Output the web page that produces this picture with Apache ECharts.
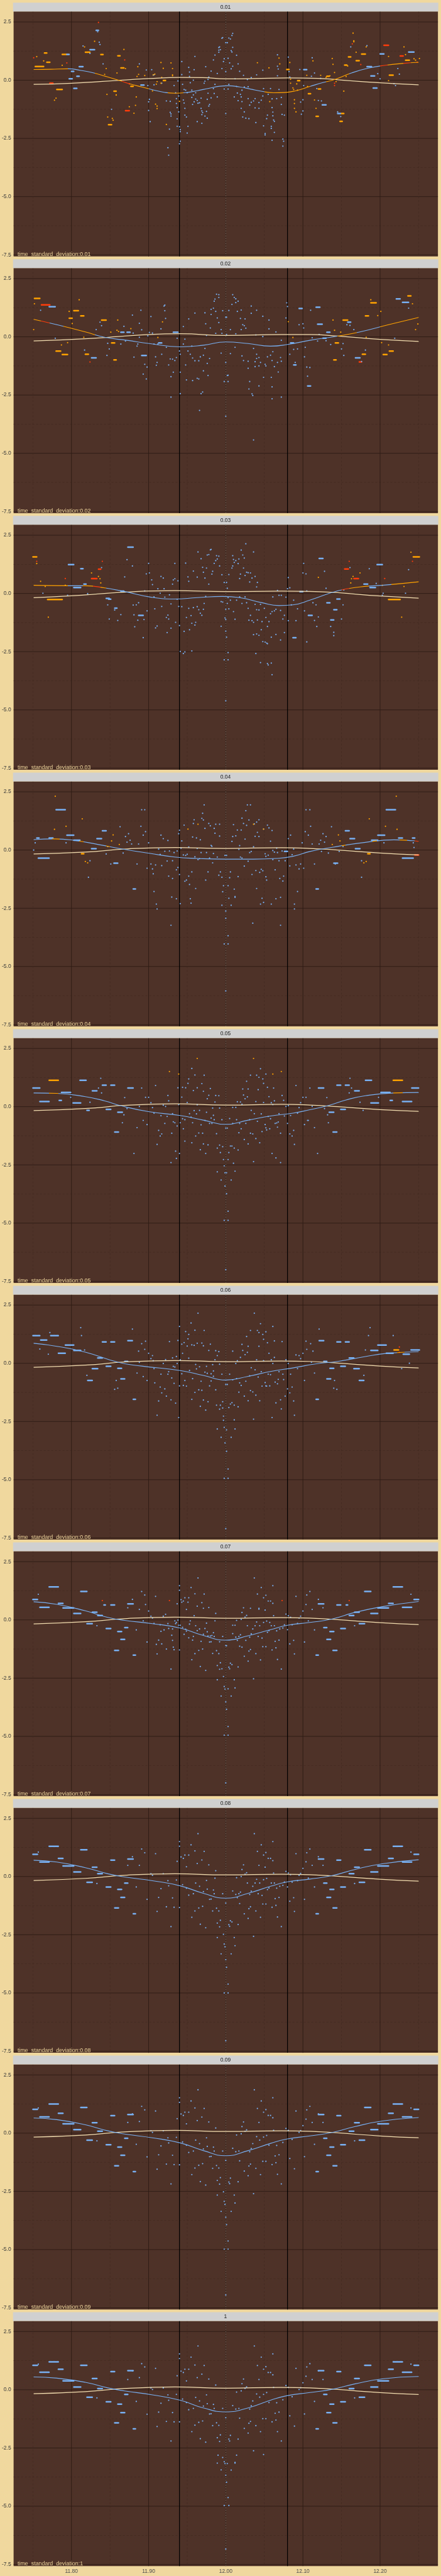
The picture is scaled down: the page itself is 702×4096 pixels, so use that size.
<!DOCTYPE html>
<html><head><meta charset="utf-8">
<script src="https://cdn.jsdelivr.net/npm/echarts@6/dist/echarts.min.js"></script>
<style>html,body{margin:0;padding:0;background:#f0d89e;}#c{width:702px;height:4096px;}</style>
</head><body><div id="c"></div>
<script>
// ---------- tick / label arrays ----------
const panelLabels = ['0.01','0.02','0.03','0.04','0.05','0.06','0.07','0.08','0.09','1'];
const captionPrefix = 'time_standard_deviation:';
const yTicks = [-7.5,-5,-2.5,0,2.5];
const yMinor = [-6.25,-3.75,-1.25,1.25];
const xTicks = [11.8,11.9,12.0,12.1,12.2];
const xMinor = [11.75,11.85,11.95,12.05,12.15,12.25];
const refLines = [11.94,12.08];
const centerLine = [12.0];

// ---------- panel 1 ----------
const P1_bars = [[11.753,11.764,0.59,1],[11.765,11.768,1.17,1],[11.768,11.772,0.77,1],[11.788,11.794,1.11,1],[11.794,11.797,1.11,0],[11.772,11.776,-0.13,2],[11.781,11.788,-0.40,1],[11.810,11.815,0.58,0],[11.800,11.803,0.38,0],[11.807,11.810,0.17,0],[11.797,11.801,0.06,0],[11.803,11.807,-0.35,0],[11.824,11.830,1.31,0],[11.818,11.824,1.20,1],[11.838,11.841,1.10,1],[11.860,11.863,1.05,1],[11.864,11.868,0.53,1],[11.855,11.858,-0.47,1],[11.877,11.880,-0.26,1],[11.890,11.894,-0.21,0],[11.832,11.835,2.14,0],[11.848,11.852,-1.91,1],[11.870,11.875,-1.31,2],[11.919,11.922,-0.01,1],[12.079,12.082,0.46,1],[12.093,12.096,-0.02,1],[12.101,12.105,0.45,0],[12.107,12.110,-0.58,1],[12.117,12.120,-1.55,1],[12.120,12.123,-0.38,1],[12.125,12.130,-1.06,0],[12.131,12.134,0.17,1],[12.145,12.149,-1.43,0],[12.148,12.151,-1.77,1],[12.150,12.153,-1.43,1],[12.154,12.157,0.65,1],[12.159,12.162,1.00,1],[12.169,12.173,0.84,1],[12.176,12.181,1.12,1],[12.183,12.189,0.58,0],[12.188,12.193,0.18,0],[12.191,12.196,-0.34,0],[12.200,12.205,1.13,0],[12.205,12.211,1.50,2],[12.212,12.217,0.22,1],[12.226,12.230,1.04,2],[12.233,12.238,0.86,1],[12.237,12.244,1.21,0]];
const P1_red = [[11.751,0.96],[11.835,2.48],[11.869,0.87],[11.794,0.74],[11.875,-0.16],[12.141,-0.13],[12.141,-0.23],[12.164,1.56],[12.175,0.67],[12.248,0.77]];
const P1_orange = [[11.755,1.01],[11.764,0.83],[11.788,0.64],[11.817,1.43],[11.830,1.67],[11.868,1.32],[11.845,0.50],[11.843,0.25],[11.859,0.31],[11.886,0.58],[11.885,0.16],[11.887,0.25],[11.895,0.20],[11.870,0.50],[11.846,-0.61],[11.858,-0.64],[11.778,-0.86],[11.780,-0.77],[11.847,-1.58],[11.853,-1.64],[11.854,-1.72],[11.881,-1.42],[11.884,-0.72],[11.883,-1.08],[11.875,-1.14],[11.858,-0.63],[11.905,-0.46],[11.909,-1.03],[11.911,-1.11],[11.911,-1.22],[11.906,0.23],[11.908,0.26],[11.910,-0.17],[11.911,-0.06],[11.916,0.76],[11.919,0.51],[11.917,0.12],[11.916,-0.13],[11.923,-1.90],[11.929,0.74],[11.931,0.50],[11.931,0.23],[11.931,0.19],[11.940,-0.91],[12.041,0.75],[12.056,0.53],[12.057,-0.92],[12.069,0.95],[12.070,0.70],[12.083,0.76],[12.084,0.04],[12.084,-0.13],[12.087,-0.33],[12.088,-0.40],[12.089,-0.84],[12.089,-1.00],[12.089,-1.21],[12.091,-1.36],[12.092,-0.16],[12.093,-0.43],[12.113,0.83],[12.105,0.21],[12.106,-0.27],[12.115,-0.85],[12.117,-1.21],[12.123,0.21],[12.130,0.12],[12.135,0.19],[12.138,0.93],[12.139,0.68],[12.141,0.33],[12.143,-0.06],[12.153,-0.47],[12.156,0.16],[12.158,0.61],[12.165,2.02],[12.166,1.65],[12.166,1.69],[12.169,1.20],[12.182,1.43],[12.211,1.02],[12.211,-0.02],[12.231,1.43],[12.233,1.10],[12.244,0.92],[12.246,0.86],[12.251,0.93]];
const P1_blue = [[11.888,0.70],[11.897,0.44],[11.906,0.22],[11.904,0.45],[11.841,0.70],[11.836,1.63],[11.837,1.53],[11.815,1.47],[11.824,1.15],[11.834,2.08],[11.852,-1.25],[11.899,-0.23],[11.901,-0.82],[11.900,-0.93],[11.900,-1.30],[11.902,-1.78],[11.907,-0.20],[11.907,0.23],[11.917,-0.13],[11.925,-2.90],[11.926,-3.22],[11.927,-2.10],[11.923,-0.89],[11.928,-0.91],[11.928,-1.38],[11.929,-1.45],[11.929,-1.54],[11.933,-0.23],[11.935,-0.54],[11.936,-0.79],[11.936,-1.00],[11.937,-1.18],[11.937,-1.66],[11.937,-1.98],[11.940,-2.00],[11.939,-1.36],[11.939,-0.68],[11.938,-0.03],[11.941,-2.12],[11.941,-2.21],[11.941,-2.62],[11.940,-2.73],[11.943,0.80],[11.943,0.24],[11.944,-0.18],[11.946,-0.40],[11.945,-0.85],[11.946,-0.98],[11.947,-1.21],[11.947,-1.50],[11.948,-0.43],[11.950,-0.54],[11.949,-1.58],[11.950,-2.27],[11.951,-1.98],[11.952,0.55],[11.953,0.35],[11.953,0.16],[11.954,-0.11],[11.956,-0.43],[11.956,-0.74],[11.957,-1.04],[11.959,-0.93],[11.958,-0.63],[11.961,-0.54],[11.961,-0.81],[11.963,-0.87],[11.963,-1.78],[11.960,1.02],[11.959,0.45],[11.958,0.00],[11.964,-0.99],[11.966,-0.97],[11.968,-0.77],[11.968,-1.21],[11.969,-1.32],[11.970,-1.39],[11.969,-1.48],[11.969,-1.85],[11.973,-1.54],[11.975,-1.34],[11.976,-1.63],[11.978,-1.11],[11.979,-1.04],[11.981,-0.76],[11.976,-0.82],[11.977,-0.56],[11.972,-0.13],[11.973,-0.04],[11.974,0.58],[11.977,0.03],[11.978,0.13],[11.981,0.39],[11.984,0.87],[11.984,-0.36],[11.985,-0.57],[11.986,-0.18],[11.989,-0.72],[11.989,0.29],[11.986,1.08],[11.991,1.20],[11.991,1.29],[11.991,1.40],[11.992,1.43],[11.993,1.31],[11.995,1.80],[11.996,1.83],[11.995,0.50],[11.997,0.80],[11.998,0.92],[12.000,0.37],[12.000,1.61],[12.002,1.61],[12.000,-1.43],[11.998,-0.38],[12.003,-0.38],[12.004,-0.18],[12.004,1.81],[12.006,1.77],[12.008,1.92],[12.009,2.01],[12.009,1.41],[12.008,1.21],[12.007,1.27],[12.003,0.94],[12.005,0.74],[12.007,0.49],[12.009,0.60],[12.014,1.07],[12.016,0.70],[12.012,0.06],[12.014,-0.27],[12.018,0.38],[12.015,-0.55],[12.019,-0.61],[12.021,-0.43],[12.024,-0.29],[12.011,-0.72],[12.016,-0.88],[12.020,-0.72],[12.021,-0.92],[12.020,-1.21],[12.024,-1.36],[12.022,-1.58],[12.026,-1.63],[12.030,-1.65],[12.023,0.21],[12.028,0.03],[12.029,-0.28],[12.033,0.11],[12.029,-0.79],[12.031,-1.07],[12.033,-0.95],[12.036,-0.89],[12.038,-0.79],[12.038,-1.19],[12.039,-1.82],[12.043,-1.21],[12.043,-0.96],[12.046,-0.86],[12.048,-0.68],[12.049,-0.36],[12.040,0.23],[12.048,0.43],[12.049,-1.96],[12.051,-2.29],[12.051,-2.35],[12.054,-1.50],[12.053,-1.65],[12.059,-1.98],[12.059,-2.07],[12.060,-2.58],[12.063,-2.24],[12.055,-0.61],[12.058,-0.36],[12.060,-0.80],[12.060,-1.18],[12.061,-1.37],[12.061,-1.53],[12.062,-1.71],[12.063,-1.77],[12.066,-0.79],[12.067,0.19],[12.068,0.48],[12.067,0.60],[12.067,1.09],[12.069,-0.40],[12.072,-0.74],[12.072,-1.04],[12.073,-1.47],[12.076,-1.50],[12.074,-2.53],[12.075,-2.62],[12.074,-2.83],[12.081,0.99],[12.082,0.37],[12.083,0.13],[12.097,-0.94],[12.098,-1.46],[12.100,-0.84],[12.100,-1.32],[12.101,-0.23],[12.096,0.46],[12.112,0.96],[12.111,0.17],[12.115,0.31],[12.118,-0.36],[12.120,-0.87],[12.124,-0.89],[12.123,0.08],[12.145,-1.36],[12.149,-1.56],[12.162,1.43],[12.183,1.48],[12.197,0.28],[12.200,0.06],[12.218,-0.15],[12.220,-0.23],[12.223,0.50],[12.225,0.26]];
const P1_curve = [[11.751,0.46],[11.773,0.47],[11.796,0.49],[11.812,0.42],[11.829,0.31],[11.845,0.16],[11.861,0.00],[11.876,-0.16],[11.891,-0.29],[11.905,-0.41],[11.920,-0.52],[11.934,-0.56],[11.949,-0.53],[11.963,-0.45],[11.978,-0.35],[11.992,-0.26],[12.003,-0.24],[12.018,-0.29],[12.032,-0.38],[12.047,-0.48],[12.062,-0.54],[12.076,-0.53],[12.091,-0.45],[12.109,-0.27],[12.126,-0.10],[12.141,0.03],[12.163,0.31],[12.185,0.52],[12.207,0.64],[12.229,0.72],[12.250,0.77]];
const P1_curveCol = [[11.70,1],[11.795,0],[11.83,1],[11.865,2],[11.875,1],[11.90,0],[11.925,1],[11.945,0],[12.05,1],[12.11,0],[12.13,1],[12.16,0],[12.20,2],[12.21,1],[12.23,2],[12.24,1]];
const P1_cream = [[11.751,-0.18],[11.800,-0.13],[11.850,-0.03],[11.900,0.07],[11.941,0.12],[11.970,0.11],[12.000,0.06],[12.036,0.07],[12.080,0.10],[12.120,0.08],[12.145,0.02],[12.200,-0.11],[12.250,-0.20]];

// ---------- panel 2 ----------
const P2_bars = [[11.752,11.759,1.65,1],[11.761,11.772,1.37,2],[11.771,11.779,1.29,0],[11.803,11.809,1.12,1],[11.780,11.786,-0.61,1],[11.788,11.795,-0.76,1],[11.812,11.816,0.90,1],[11.818,11.822,-0.75,1],[11.826,11.832,-0.90,0],[11.839,11.845,0.72,1],[11.864,11.868,0.20,0],[11.872,11.876,0.20,0],[11.852,11.856,-0.26,1],[11.855,11.858,-0.99,1],[11.891,11.897,-0.80,0],[11.913,11.917,-0.26,0],[11.932,11.938,0.20,0],[11.797,11.801,0.80,1],[12.084,12.088,-0.26,0],[12.088,12.091,-1.21,0],[12.106,12.110,-2.11,0],[12.095,12.099,1.22,0],[12.126,12.130,-0.06,0],[12.131,12.135,0.20,0],[12.117,12.122,1.27,0],[12.119,12.125,0.54,0],[12.152,12.158,0.72,1],[12.158,12.162,0.63,0],[12.142,12.146,-0.26,1],[12.140,12.143,-0.99,1],[12.168,12.174,-0.90,0],[12.173,12.176,-1.08,2],[12.177,12.181,-0.75,1],[12.181,12.185,0.90,1],[12.188,12.195,1.46,1],[12.204,12.209,-0.76,1],[12.212,12.217,-0.61,1],[12.221,12.226,1.63,0],[12.229,12.237,1.48,0],[12.236,12.240,1.76,1]];
const P2_red = [[11.824,-1.08]];
const P2_orange = [[11.751,0.31],[11.752,1.42],[11.810,1.59],[11.797,1.09],[11.801,0.57],[11.795,-0.25],[11.787,-0.35],[11.816,-0.02],[11.851,0.20],[11.859,0.28],[11.860,0.72],[11.861,0.23],[11.877,0.35],[11.912,-0.03],[11.918,0.64],[12.081,0.65],[12.087,-0.03],[12.139,0.72],[12.141,0.28],[12.149,0.20],[12.182,-0.02],[12.202,-0.25],[12.211,-0.35],[12.197,0.91],[12.201,1.09],[12.246,0.31],[12.249,0.55],[12.242,1.42],[12.188,1.59]];
const P2_blue = [[11.760,1.14],[11.779,-0.06],[11.817,-0.57],[11.832,0.31],[11.837,0.63],[11.839,0.48],[11.846,-0.80],[11.847,-0.28],[11.849,-0.52],[11.864,-0.31],[11.868,0.45],[11.870,-0.18],[11.879,0.93],[11.880,0.16],[11.881,-0.87],[11.885,-0.40],[11.886,-0.31],[11.888,-0.02],[11.888,0.58],[11.890,1.14],[11.891,0.30],[11.893,-1.60],[11.895,-1.18],[11.897,-1.81],[11.898,-1.30],[11.899,0.04],[11.901,0.19],[11.903,0.87],[11.905,0.16],[11.907,-0.31],[11.909,-0.86],[11.910,-1.22],[11.911,-1.10],[11.912,-0.31],[11.916,0.34],[11.917,-0.75],[11.920,1.32],[11.921,1.12],[11.921,1.36],[11.922,0.79],[11.923,-0.45],[11.926,-1.21],[11.928,-0.95],[11.929,-1.71],[11.929,-2.59],[11.931,-0.96],[11.932,-1.52],[11.934,-1.02],[11.936,-0.89],[11.937,-0.06],[11.940,-0.61],[11.941,-2.44],[11.941,-1.52],[11.941,-0.75],[11.945,-0.31],[11.945,0.44],[11.947,-0.10],[11.948,-1.21],[11.949,-1.85],[11.951,-0.61],[11.952,0.77],[11.954,-0.75],[11.956,-0.40],[11.957,-0.91],[11.957,-1.88],[11.960,-1.03],[11.960,1.02],[11.963,-1.78],[11.965,-1.81],[11.965,-1.03],[11.966,-3.16],[11.967,-0.86],[11.968,-2.44],[11.970,-2.37],[11.971,-0.79],[11.971,-1.46],[11.973,1.03],[11.973,-0.50],[11.974,0.56],[11.975,0.06],[11.976,-1.14],[11.977,-1.66],[11.979,-0.93],[11.980,0.38],[11.981,0.96],[11.981,1.18],[11.984,1.23],[11.985,1.53],[11.986,1.62],[11.987,1.09],[11.987,0.15],[11.988,1.83],[11.989,0.81],[11.991,1.81],[11.991,0.61],[11.991,1.69],[11.994,0.31],[11.994,-0.70],[11.995,0.15],[11.996,1.12],[11.998,-1.92],[12.000,0.84],[12.000,-1.10],[12.000,-3.41],[12.001,0.84],[12.001,0.10],[12.002,-1.66],[12.003,-1.92],[12.003,-1.65],[12.004,1.13],[12.006,0.31],[12.006,-0.72],[12.008,1.39],[12.009,1.81],[12.011,1.69],[12.012,-0.45],[12.013,1.47],[12.013,1.63],[12.013,0.13],[12.015,1.09],[12.016,1.53],[12.019,0.79],[12.020,1.15],[12.020,0.31],[12.021,-0.82],[12.022,0.52],[12.023,-1.02],[12.024,0.48],[12.025,0.77],[12.026,0.37],[12.029,-1.05],[12.029,-1.35],[12.030,-2.24],[12.031,-1.92],[12.033,1.01],[12.033,1.32],[12.034,-2.45],[12.035,-2.52],[12.036,-0.50],[12.036,-4.43],[12.038,-1.07],[12.038,-1.28],[12.039,0.08],[12.040,-0.93],[12.040,1.14],[12.040,-0.75],[12.043,-1.25],[12.043,-2.11],[12.043,-0.89],[12.045,-1.10],[12.048,0.01],[12.048,0.88],[12.049,-1.74],[12.051,-1.18],[12.052,-1.25],[12.054,-0.86],[12.056,0.72],[12.056,0.34],[12.058,-0.79],[12.059,-1.74],[12.060,-1.02],[12.060,-2.66],[12.060,-2.15],[12.061,-0.64],[12.063,-1.28],[12.065,0.21],[12.067,-1.10],[12.068,-1.51],[12.071,-0.89],[12.072,-2.59],[12.072,-1.05],[12.072,-0.15],[12.078,0.81],[12.079,1.46],[12.080,1.30],[12.083,-0.75],[12.088,-0.54],[12.090,-1.10],[12.093,-0.52],[12.095,0.52],[12.100,0.56],[12.101,0.38],[12.102,-0.86],[12.103,-0.45],[12.105,-1.30],[12.109,-1.32],[12.106,-1.69],[12.110,1.14],[12.112,-0.04],[12.119,-0.18],[12.121,0.10],[12.130,-0.17],[12.136,-0.33],[12.150,-0.52],[12.152,-0.29],[12.153,-0.80],[12.157,0.52],[12.161,0.49],[12.166,0.31],[12.176,-1.06],[12.181,-0.57],[12.219,-0.06],[12.237,1.23]];
const P2_curve = [[11.751,0.75],[11.781,0.52],[11.818,0.21],[11.843,-0.02],[11.872,-0.15],[11.901,-0.29],[11.941,-0.43],[11.971,-0.36],[12.000,-0.22],[12.029,-0.29],[12.058,-0.40],[12.080,-0.33],[12.109,-0.15],[12.145,0.03],[12.174,0.21],[12.211,0.52],[12.250,0.83]];
const P2_curveCol = [[11.70,1],[11.76,2],[11.772,0],[11.79,1],[11.83,0],[12.145,1],[12.17,0],[12.20,1]];
const P2_cream = [[11.751,-0.18],[11.818,-0.08],[11.861,0.01],[11.901,0.10],[11.941,0.13],[12.000,0.06],[12.072,0.10],[12.109,0.10],[12.145,0.03],[12.200,-0.11],[12.250,-0.20]];

// ---------- panel 3 ----------
const P3_bars = [[11.750,11.755,1.57,1],[11.769,11.788,-0.26,1],[11.796,11.803,1.24,0],[11.803,11.812,0.25,0],[11.812,11.815,1.06,0],[11.816,11.819,0.40,0],[11.826,11.833,0.64,2],[11.835,11.838,1.04,2],[11.845,11.849,-0.21,0],[11.848,11.851,-0.25,0],[11.856,11.859,-0.63,0],[11.873,11.880,1.99,0],[11.864,11.868,0.10,0],[11.887,11.893,-0.94,0],[12.087,12.091,-1.90,0],[12.096,12.100,0.08,0],[12.107,12.112,-0.94,0],[12.121,12.126,1.50,0],[12.131,12.135,-0.40,0],[12.136,12.140,-1.14,0],[12.140,12.144,-0.70,0],[12.144,12.148,-0.24,0],[12.154,12.159,1.05,2],[12.166,12.172,0.64,2],[12.179,12.184,0.40,0],[12.187,12.194,0.25,0],[12.196,12.203,1.24,0],[12.211,12.226,-0.26,1],[12.243,12.251,1.57,1]];
const P3_red = [[11.755,1.38],[11.792,0.64],[11.840,1.38],[12.160,1.38],[12.206,0.64],[12.242,1.38]];
const P3_orange = [[11.755,1.28],[11.760,0.52],[11.766,0.30],[11.770,-1.02],[11.792,0.35],[11.826,0.88],[11.835,0.73],[11.837,0.63],[11.838,0.45],[12.120,0.69],[12.162,0.45],[12.163,0.63],[12.165,0.73],[12.174,0.88],[12.203,0.35],[12.228,-1.02],[12.231,0.30],[12.240,1.77]];
const P3_blue = [[11.763,0.01],[11.795,-0.08],[11.821,-0.01],[11.839,1.11],[11.847,-0.49],[11.849,-1.10],[11.856,-0.71],[11.860,-1.16],[11.864,-0.91],[11.867,0.10],[11.869,0.71],[11.872,1.45],[11.879,1.18],[11.880,-0.50],[11.884,-0.49],[11.881,-0.92],[11.882,-1.43],[11.886,-1.15],[11.887,-0.40],[11.893,-1.90],[11.894,-1.12],[11.895,0.11],[11.897,0.84],[11.898,-0.75],[11.900,1.29],[11.901,0.88],[11.904,0.58],[11.905,0.38],[11.907,-0.15],[11.908,-0.66],[11.909,-1.48],[11.911,-1.40],[11.912,0.20],[11.915,0.01],[11.916,0.73],[11.917,-0.56],[11.919,0.66],[11.920,0.20],[11.921,-0.16],[11.923,-1.03],[11.924,-1.68],[11.925,-0.93],[11.926,-1.10],[11.927,-0.06],[11.929,-1.49],[11.929,-0.45],[11.931,0.40],[11.932,0.58],[11.934,0.63],[11.934,1.29],[11.935,-1.24],[11.937,-0.25],[11.938,0.54],[11.939,-0.56],[11.940,-1.38],[11.941,-2.49],[11.943,-0.57],[11.945,-2.58],[11.946,-1.63],[11.947,-2.51],[11.948,1.30],[11.949,-1.03],[11.951,0.71],[11.952,-0.64],[11.952,0.52],[11.953,-1.56],[11.955,-0.95],[11.956,-2.47],[11.956,-1.28],[11.958,0.96],[11.958,-0.61],[11.960,-1.36],[11.961,-1.24],[11.963,-0.57],[11.963,0.70],[11.964,1.78],[11.965,-0.70],[11.967,-0.85],[11.968,1.49],[11.969,-0.94],[11.970,1.12],[11.971,-0.68],[11.971,0.91],[11.972,-0.43],[11.973,0.66],[11.974,-0.13],[11.975,1.09],[11.976,1.65],[11.978,0.40],[11.978,1.67],[11.980,1.87],[11.981,1.89],[11.982,0.83],[11.983,0.95],[11.985,1.29],[11.987,1.41],[11.988,1.62],[11.989,1.48],[11.991,1.60],[11.992,1.18],[11.994,-0.35],[11.994,-1.41],[11.995,0.80],[11.996,-0.37],[11.998,0.47],[11.998,-2.85],[11.999,-1.05],[12.000,-0.68],[12.000,-1.62],[12.000,-4.61],[12.000,-1.12],[12.001,0.47],[12.001,-1.88],[12.002,0.22],[12.002,-0.43],[12.003,-2.54],[12.003,-2.85],[12.003,-0.18],[12.004,0.81],[12.004,-0.66],[12.006,-0.29],[12.008,1.09],[12.009,1.18],[12.009,1.62],[12.010,-0.78],[12.010,1.46],[12.011,1.33],[12.012,-1.11],[12.013,1.41],[12.014,-0.29],[12.016,1.28],[12.017,1.48],[12.018,0.64],[12.018,-0.15],[12.019,0.83],[12.020,1.86],[12.021,-0.43],[12.022,1.65],[12.023,1.09],[12.024,1.52],[12.025,0.77],[12.025,-0.15],[12.026,2.13],[12.027,0.91],[12.027,-0.40],[12.029,0.89],[12.029,-0.64],[12.030,-1.15],[12.031,0.49],[12.032,0.88],[12.032,-0.94],[12.034,0.66],[12.034,-1.17],[12.036,1.78],[12.036,-1.24],[12.036,-1.77],[12.038,0.73],[12.038,-0.47],[12.039,-2.58],[12.040,0.28],[12.040,-0.70],[12.040,-1.74],[12.041,0.47],[12.041,-1.14],[12.043,-0.71],[12.043,-1.80],[12.045,-0.47],[12.045,-2.97],[12.046,-1.56],[12.047,-1.21],[12.048,-2.07],[12.050,-0.64],[12.051,-2.09],[12.052,-1.03],[12.053,-2.13],[12.054,-1.42],[12.054,-2.16],[12.054,-3.01],[12.055,-3.07],[12.056,-1.21],[12.058,-0.87],[12.059,-1.88],[12.059,-2.99],[12.060,-0.78],[12.060,-3.49],[12.061,-0.15],[12.063,-0.75],[12.065,-0.68],[12.065,-1.76],[12.067,0.13],[12.069,-0.08],[12.071,-0.73],[12.071,-2.00],[12.072,-0.08],[12.074,-1.10],[12.076,-0.94],[12.076,-1.68],[12.078,-0.16],[12.080,0.20],[12.081,0.68],[12.081,-1.17],[12.083,0.24],[12.085,-0.49],[12.088,-0.29],[12.091,-1.17],[12.093,-0.66],[12.100,0.88],[12.101,1.29],[12.102,-0.75],[12.104,0.84],[12.105,0.11],[12.105,-2.08],[12.113,-0.40],[12.115,-1.16],[12.117,-0.49],[12.118,-1.42],[12.120,-1.01],[12.128,0.95],[12.130,0.22],[12.136,-1.42],[12.140,-1.67],[12.140,-1.81],[12.150,-1.10],[12.152,-0.49],[12.153,0.15],[12.161,1.11],[12.186,1.06],[12.195,0.43],[12.203,-0.08],[12.204,0.01],[12.233,0.01],[12.237,1.02]];
const P3_curve = [[11.751,0.35],[11.796,0.33],[11.818,0.33],[11.843,0.24],[11.872,0.06],[11.901,-0.15],[11.934,-0.24],[11.963,-0.18],[11.996,-0.13],[12.018,-0.18],[12.047,-0.40],[12.069,-0.52],[12.087,-0.49],[12.109,-0.29],[12.145,0.11],[12.174,0.28],[12.203,0.35],[12.250,0.50]];
const P3_curveCol = [[11.70,1],[11.795,0],[11.815,1],[11.828,2],[11.838,1],[11.845,0],[12.15,2],[12.16,1],[12.185,0],[12.215,1]];
const P3_cream = [[11.751,-0.18],[11.796,-0.11],[11.872,0.06],[11.934,0.12],[12.000,0.08],[12.072,0.10],[12.109,0.09],[12.145,0.03],[12.200,-0.11],[12.250,-0.20]];

// ---------- panel 4 ----------
const P4_bars = [[11.755,11.758,0.52,0],[11.757,11.771,-0.35,0],[11.771,11.776,0.52,0],[11.780,11.792,1.73,0],[11.794,11.803,0.64,0],[11.803,11.811,0.42,0],[11.813,11.816,-0.16,1],[11.826,11.832,0.06,0],[11.833,11.839,0.49,0],[11.840,11.845,0.83,0],[11.855,11.860,-0.56,0],[11.880,11.883,-1.67,0],[12.076,12.080,-0.06,0],[12.117,12.120,-1.67,0],[12.140,12.145,-0.56,0],[12.155,12.160,0.83,0],[12.161,12.167,0.49,0],[12.168,12.174,0.06,0],[12.184,12.187,-0.16,1],[12.189,12.197,0.42,0],[12.197,12.206,0.64,0],[12.208,12.220,1.73,0],[12.224,12.229,0.52,0],[12.229,12.243,-0.35,0],[12.242,12.245,0.52,0],[12.245,12.250,-0.21,2]];
const P4_red = [];
const P4_orange = [[11.779,2.31],[11.778,0.89],[11.793,1.02],[11.814,1.34],[11.818,-0.49],[11.821,-0.55],[11.852,0.39],[11.854,0.65],[11.862,0.24],[11.951,0.90],[11.964,1.11],[12.036,1.11],[12.049,0.90],[12.138,0.24],[12.146,0.65],[12.148,0.39],[12.179,-0.55],[12.182,-0.49],[12.186,1.34],[12.207,1.02],[12.221,2.31],[12.222,0.89]];
const P4_blue = [[11.751,0.00],[11.753,0.31],[11.793,0.31],[11.822,-1.17],[11.824,-0.46],[11.847,0.15],[11.845,-0.17],[11.851,-0.60],[11.863,1.00],[11.867,-0.13],[11.870,0.58],[11.872,0.34],[11.874,0.70],[11.876,0.42],[11.878,0.26],[11.885,-0.60],[11.887,0.26],[11.890,1.02],[11.891,1.73],[11.895,1.73],[11.893,0.64],[11.896,0.79],[11.898,-0.78],[11.900,0.31],[11.903,-0.60],[11.905,-0.81],[11.906,-1.02],[11.907,-1.78],[11.909,-0.64],[11.910,-2.32],[11.911,-2.53],[11.913,0.04],[11.915,-0.19],[11.916,0.64],[11.917,-0.67],[11.919,0.49],[11.921,-0.05],[11.924,-0.47],[11.925,0.41],[11.926,-1.12],[11.927,-0.04],[11.929,-3.23],[11.930,-2.02],[11.931,-1.22],[11.931,-0.46],[11.933,-0.11],[11.936,-2.09],[11.936,-0.85],[11.937,-0.04],[11.938,-0.75],[11.939,0.70],[11.940,0.85],[11.940,-1.05],[11.941,-2.30],[11.942,0.08],[11.943,0.39],[11.945,-0.21],[11.946,1.07],[11.947,-1.34],[11.948,-0.23],[11.949,-1.29],[11.950,-0.18],[11.952,-1.12],[11.952,0.13],[11.953,-1.48],[11.954,-2.09],[11.955,-2.28],[11.956,-0.94],[11.957,0.56],[11.958,1.14],[11.959,1.30],[11.960,-0.29],[11.961,-1.65],[11.962,0.52],[11.963,0.07],[11.964,-0.41],[11.966,-0.37],[11.967,0.44],[11.968,-0.11],[11.969,1.36],[11.970,1.58],[11.971,1.29],[11.972,1.94],[11.973,0.93],[11.974,-1.29],[11.975,-0.11],[11.977,-0.94],[11.978,1.14],[11.979,-0.34],[11.980,1.04],[11.981,0.20],[11.982,0.16],[11.983,-0.55],[11.984,-0.15],[11.985,0.93],[11.986,0.72],[11.987,1.11],[11.989,-0.30],[11.991,-1.08],[11.992,1.11],[11.992,0.60],[11.993,-0.94],[11.995,-1.17],[11.995,-2.37],[11.996,-1.79],[11.997,-1.53],[11.999,-0.23],[12.000,-2.62],[12.000,-2.93],[12.001,-0.23],[12.003,-3.68],[11.998,-4.03],[12.003,-4.03],[12.000,-6.05],[12.003,-1.53],[12.004,-2.07],[12.005,-1.19],[12.006,-0.94],[12.007,-2.37],[12.008,0.37],[12.009,0.58],[12.010,1.09],[12.011,-1.68],[12.012,-2.03],[12.012,-2.00],[12.013,0.61],[12.015,0.86],[12.016,-1.14],[12.017,0.03],[12.018,0.19],[12.019,-0.30],[12.020,0.86],[12.021,-0.34],[12.021,1.37],[12.023,1.14],[12.024,-0.69],[12.025,0.47],[12.026,1.69],[12.027,1.06],[12.028,1.94],[12.029,-0.48],[12.030,1.29],[12.031,-0.11],[12.032,1.94],[12.033,-0.06],[12.034,-1.05],[12.035,-3.14],[12.036,0.14],[12.037,1.12],[12.038,0.59],[12.039,-0.88],[12.040,-1.65],[12.040,1.20],[12.041,0.76],[12.043,1.30],[12.043,0.58],[12.044,-0.96],[12.045,-2.32],[12.046,-0.83],[12.047,-2.07],[12.048,-0.89],[12.049,-2.25],[12.049,0.90],[12.051,-0.16],[12.052,-1.15],[12.052,-0.27],[12.053,-1.29],[12.054,1.07],[12.055,-0.22],[12.056,0.95],[12.058,0.38],[12.059,-2.32],[12.060,0.84],[12.061,-0.02],[12.061,-0.41],[12.063,-0.09],[12.064,-0.85],[12.065,-2.09],[12.066,0.08],[12.067,-0.11],[12.069,-0.46],[12.070,-1.22],[12.071,-2.03],[12.071,-3.23],[12.073,-0.04],[12.074,-1.33],[12.075,-1.12],[12.077,-0.46],[12.081,0.49],[12.083,-0.68],[12.084,0.64],[12.086,-0.20],[12.088,0.04],[12.089,-2.32],[12.089,-2.53],[12.091,-0.64],[12.093,-1.78],[12.095,-0.81],[12.097,-0.60],[12.099,0.31],[12.101,-0.78],[12.103,0.79],[12.104,1.73],[12.109,1.73],[12.107,0.64],[12.110,1.02],[12.112,0.26],[12.115,-0.60],[12.121,0.26],[12.123,0.42],[12.124,-0.06],[12.126,0.70],[12.128,0.34],[12.130,0.58],[12.133,-0.13],[12.137,1.00],[12.142,-0.60],[12.147,-0.06],[12.152,0.15],[12.176,-0.46],[12.176,-1.17],[12.205,0.31],[12.243,0.31],[12.244,0.11]];
const P4_curve = [[11.751,0.45],[11.778,0.48],[11.803,0.42],[11.836,0.23],[11.872,0.01],[11.901,-0.14],[11.934,-0.30],[11.963,-0.36],[12.000,-0.39],[12.036,-0.39],[12.065,-0.36],[12.087,-0.27],[12.109,-0.06],[12.138,0.12],[12.181,0.33],[12.218,0.44],[12.243,0.40],[12.250,0.37]];
const P4_curveCol = [[11.70,0],[11.775,1],[11.785,0],[11.81,1],[11.816,0],[11.845,1],[11.85,0],[12.15,1],[12.155,0],[12.19,1],[12.196,0],[12.225,1],[12.235,0],[12.245,2]];
const P4_cream = [[11.751,-0.17],[11.818,-0.09],[11.872,0.05],[11.934,0.11],[12.000,0.07],[12.072,0.10],[12.109,0.07],[12.145,0.00],[12.200,-0.13],[12.250,-0.21]];

// ---------- panel 5 ----------
const P5_bars = [[11.750,11.759,0.80,0],[11.771,11.783,1.13,1],[11.759,11.771,0.22,0],[11.787,11.799,0.61,0],[11.784,11.787,0.27,0],[11.802,11.812,0.16,0],[11.811,11.819,1.13,0],[11.820,11.823,-0.16,0],[11.827,11.833,0.68,0],[11.840,11.845,0.92,0],[11.845,11.851,-0.12,0],[11.851,11.856,0.92,0],[11.856,11.861,-1.09,0],[11.860,11.866,-0.24,0],[11.873,11.880,0.80,0],[12.120,12.127,0.80,0],[12.134,12.140,-0.24,0],[12.139,12.144,-1.09,0],[12.144,12.149,0.92,0],[12.149,12.155,-0.12,0],[12.155,12.160,0.92,0],[12.167,12.173,0.68,0],[12.181,12.189,1.13,0],[12.188,12.198,0.16,0],[12.201,12.213,0.61,0],[12.213,12.216,0.27,0],[12.217,12.229,1.13,1],[12.229,12.241,0.22,0],[12.241,12.250,0.80,0]];
const P5_red = [];
const P5_orange = [[11.927,1.51],[11.939,1.40],[11.963,2.07],[12.036,2.07],[12.061,1.40],[12.072,1.51]];
const P5_blue = [[11.799,0.40],[11.824,0.19],[11.835,0.80],[11.838,1.22],[11.839,0.59],[11.866,-0.69],[11.868,-0.35],[11.869,0.39],[11.872,-0.08],[11.881,-2.01],[11.885,-0.90],[11.888,0.01],[11.891,0.80],[11.893,-0.59],[11.896,0.40],[11.898,-0.77],[11.900,0.40],[11.903,0.17],[11.905,-0.04],[11.907,-0.28],[11.909,0.91],[11.911,-1.62],[11.913,-1.02],[11.915,-1.26],[11.916,-0.39],[11.917,-1.17],[11.919,0.06],[11.921,-0.72],[11.922,0.01],[11.924,-0.42],[11.925,0.48],[11.926,0.25],[11.929,-2.40],[11.930,-1.14],[11.931,-0.30],[11.932,-0.65],[11.934,-0.69],[11.935,-1.91],[11.936,-2.22],[11.937,-0.83],[11.938,0.81],[11.939,0.09],[11.940,-2.01],[11.941,-0.69],[11.943,0.41],[11.944,-0.52],[11.944,0.83],[11.945,-0.95],[11.947,-1.48],[11.947,-0.56],[11.948,0.81],[11.950,0.18],[11.951,1.00],[11.952,1.19],[11.953,-0.30],[11.955,-0.45],[11.956,1.64],[11.956,-1.55],[11.957,-0.69],[11.958,0.69],[11.959,-0.17],[11.960,1.36],[11.961,-1.26],[11.962,-0.31],[11.963,0.08],[11.963,0.81],[11.965,-1.13],[11.966,-0.16],[11.967,-1.85],[11.968,-0.78],[11.969,0.99],[11.970,-1.14],[11.971,0.66],[11.971,-1.60],[11.972,1.35],[11.973,-0.59],[11.974,-2.01],[11.975,-0.24],[11.976,0.34],[11.977,-1.64],[11.978,0.49],[11.979,-0.72],[11.980,0.78],[11.981,-0.49],[11.982,-0.72],[11.983,-0.06],[11.984,-0.37],[11.985,-0.56],[11.986,0.20],[11.987,0.48],[11.988,-1.16],[11.989,-1.78],[11.989,-2.80],[11.991,0.47],[11.992,-0.06],[11.992,-1.65],[11.993,-1.97],[11.994,-3.15],[11.995,-0.56],[11.996,-1.72],[11.997,-2.27],[11.998,-2.54],[11.999,-2.84],[11.999,-3.41],[12.000,-0.92],[12.001,-3.74],[12.001,-2.84],[12.002,-0.92],[12.003,-4.49],[11.998,-4.88],[12.003,-4.88],[12.000,-7.00],[12.003,-2.27],[12.004,-1.97],[12.005,-0.51],[12.006,-1.69],[12.007,-3.15],[12.008,-1.69],[12.009,-0.03],[12.009,-0.72],[12.010,-2.43],[12.011,-1.78],[12.012,-2.77],[12.013,-0.03],[12.014,-0.56],[12.015,0.21],[12.016,-1.86],[12.017,-1.12],[12.018,-0.72],[12.019,0.20],[12.020,-0.95],[12.021,0.10],[12.022,0.76],[12.023,0.50],[12.024,-1.41],[12.025,0.34],[12.026,-0.72],[12.027,1.09],[12.028,0.42],[12.029,-1.60],[12.029,0.76],[12.031,-0.56],[12.032,-1.14],[12.032,1.35],[12.033,-0.16],[12.035,-1.17],[12.036,-2.36],[12.037,-0.30],[12.039,-1.37],[12.039,0.22],[12.040,1.35],[12.041,-0.63],[12.042,0.73],[12.043,1.26],[12.044,-1.55],[12.045,1.63],[12.046,-0.31],[12.047,-1.07],[12.048,1.19],[12.049,1.00],[12.049,0.18],[12.051,-0.77],[12.052,-0.91],[12.052,1.40],[12.053,-1.00],[12.054,0.83],[12.055,-0.42],[12.056,0.43],[12.057,-0.95],[12.058,-0.52],[12.059,0.17],[12.060,-2.01],[12.061,0.09],[12.062,0.80],[12.063,0.25],[12.064,-0.72],[12.065,-2.20],[12.066,-0.70],[12.067,-0.88],[12.068,-0.66],[12.069,-0.30],[12.071,-1.14],[12.071,-2.40],[12.073,0.48],[12.075,0.27],[12.076,-0.40],[12.078,0.01],[12.080,-0.72],[12.081,0.04],[12.083,-1.17],[12.084,-0.38],[12.086,-1.26],[12.088,-1.02],[12.089,-1.62],[12.091,0.91],[12.093,-0.28],[12.095,-0.04],[12.097,0.17],[12.100,0.40],[12.102,-0.77],[12.104,0.40],[12.106,-0.59],[12.107,-0.59],[12.109,0.80],[12.112,0.01],[12.115,-0.90],[12.119,-2.01],[12.128,-0.08],[12.131,0.39],[12.132,-0.35],[12.133,-0.69],[12.160,0.59],[12.161,1.22],[12.163,0.80],[12.174,0.19],[12.178,-0.16],[12.198,0.40]];
const P5_curve = [[11.751,0.59],[11.781,0.57],[11.818,0.43],[11.843,0.25],[11.865,0.03],[11.901,-0.22],[11.941,-0.38],[11.971,-0.58],[12.000,-0.76],[12.029,-0.58],[12.058,-0.40],[12.087,-0.28],[12.109,-0.13],[12.134,0.06],[12.156,0.29],[12.181,0.47],[12.218,0.59],[12.250,0.61]];
const P5_curveCol = [[11.70,0],[11.771,1],[11.783,0],[12.217,1],[12.229,0]];
const P5_cream = [[11.751,-0.17],[11.818,-0.08],[11.872,0.06],[11.934,0.12],[12.000,0.07],[12.072,0.10],[12.109,0.07],[12.145,0.00],[12.200,-0.13],[12.250,-0.20]];

// ---------- panel 6 ----------
const P6_bars = [[11.750,11.759,1.19,0],[11.760,11.768,1.00,0],[11.773,11.783,1.19,0],[11.783,11.792,0.43,0],[11.792,11.803,0.78,0],[11.803,11.812,0.55,0],[11.821,11.827,-0.74,0],[11.827,11.834,-0.23,0],[11.834,11.840,0.23,0],[11.840,11.845,0.92,0],[11.845,11.851,-0.13,0],[11.851,11.856,0.92,0],[11.860,11.865,-0.22,0],[11.864,11.869,-0.67,0],[11.869,11.873,0.08,0],[11.873,11.879,0.97,0],[11.880,11.883,-1.55,0],[12.117,12.120,-1.55,0],[12.121,12.127,0.97,0],[12.127,12.131,0.08,0],[12.131,12.136,-0.67,0],[12.135,12.140,-0.22,0],[12.144,12.149,0.92,0],[12.149,12.155,-0.13,0],[12.155,12.160,0.92,0],[12.160,12.166,0.23,0],[12.166,12.173,-0.23,0],[12.173,12.179,-0.74,0],[12.188,12.197,0.55,0],[12.197,12.208,0.78,0],[12.208,12.217,0.43,0],[12.218,12.224,0.57,1],[12.230,12.238,0.39,0],[12.240,12.251,0.57,0]];
const P6_red = [[12.225,0.70],[12.225,0.47]];
const P6_orange = [];
const P6_blue = [[11.759,0.61],[11.770,0.39],[11.772,1.32],[11.812,1.53],[11.813,1.19],[11.817,0.57],[11.820,-0.52],[11.856,-1.12],[11.858,-0.74],[11.860,-1.07],[11.879,1.47],[11.885,-0.42],[11.887,0.52],[11.888,0.04],[11.891,0.84],[11.893,-0.57],[11.895,0.60],[11.896,0.95],[11.898,-0.74],[11.900,0.43],[11.903,0.20],[11.905,0.33],[11.906,0.11],[11.907,-0.23],[11.908,-0.84],[11.911,-2.23],[11.913,-1.62],[11.915,-1.02],[11.916,-0.47],[11.917,-1.27],[11.919,-0.01],[11.921,-1.10],[11.922,0.16],[11.923,-1.41],[11.925,-0.47],[11.926,-0.36],[11.927,0.93],[11.929,-1.57],[11.930,-0.63],[11.931,0.23],[11.932,-0.13],[11.933,-0.86],[11.934,-0.16],[11.935,-1.71],[11.936,0.29],[11.937,-0.01],[11.938,0.98],[11.939,-2.33],[11.940,1.58],[11.940,-0.97],[11.941,0.15],[11.943,0.82],[11.943,-0.45],[11.944,0.43],[11.945,-0.95],[11.946,0.89],[11.947,-0.74],[11.948,1.36],[11.949,-0.98],[11.950,0.74],[11.951,1.05],[11.952,1.24],[11.952,0.22],[11.953,-0.31],[11.955,1.73],[11.956,-1.55],[11.956,0.79],[11.957,-0.66],[11.959,0.77],[11.960,1.42],[11.960,-1.25],[11.961,-0.05],[11.962,-0.24],[11.963,0.86],[11.964,2.15],[11.965,-1.14],[11.966,-0.15],[11.967,-1.85],[11.968,-0.77],[11.969,0.87],[11.969,-1.16],[11.971,0.75],[11.971,-1.58],[11.972,1.41],[11.973,-0.38],[11.974,-2.01],[11.975,-0.13],[11.976,-0.43],[11.977,-1.65],[11.978,0.55],[11.979,-0.97],[11.980,0.82],[11.981,-0.45],[11.981,-0.76],[11.983,-0.06],[11.984,-0.56],[11.984,-0.33],[11.986,0.15],[11.987,0.54],[11.987,-1.14],[11.988,-1.80],[11.989,-2.82],[11.989,0.33],[11.991,0.50],[11.992,-0.04],[11.992,-1.97],[11.993,-1.80],[11.994,-3.18],[11.995,-0.47],[11.996,-1.65],[11.996,-1.92],[11.997,-2.27],[11.997,-2.45],[11.998,-2.75],[11.999,-3.42],[12.000,-0.91],[12.001,-3.78],[12.001,-2.86],[12.002,-0.91],[12.003,-4.54],[11.998,-4.94],[12.003,-4.94],[12.000,-7.10],[12.004,-1.90],[12.005,-0.47],[12.006,-1.75],[12.007,-3.18],[12.008,-1.69],[12.009,0.52],[12.009,-0.71],[12.011,-2.43],[12.011,-1.80],[12.012,-2.82],[12.013,-0.01],[12.014,-0.66],[12.015,0.11],[12.016,-1.87],[12.017,-1.24],[12.018,-0.84],[12.019,0.25],[12.020,-0.95],[12.021,0.81],[12.022,0.55],[12.024,-1.41],[12.025,0.37],[12.026,-0.77],[12.027,1.15],[12.028,0.47],[12.029,-1.61],[12.029,0.73],[12.031,-0.54],[12.032,-1.17],[12.032,1.41],[12.033,-0.19],[12.035,-1.23],[12.036,-2.40],[12.037,2.15],[12.038,-0.28],[12.039,-1.37],[12.040,0.15],[12.041,1.41],[12.042,-0.59],[12.043,0.73],[12.043,1.32],[12.044,-1.61],[12.045,1.70],[12.046,-0.36],[12.047,-0.98],[12.048,1.24],[12.049,1.03],[12.049,0.11],[12.051,-0.83],[12.052,-0.97],[12.052,1.35],[12.053,-0.98],[12.054,0.88],[12.055,-0.47],[12.056,0.43],[12.057,-0.97],[12.058,-0.49],[12.059,0.15],[12.060,-2.33],[12.061,1.58],[12.061,-0.01],[12.063,0.96],[12.063,0.25],[12.064,-0.81],[12.065,-1.70],[12.067,-0.88],[12.068,-0.69],[12.069,-0.36],[12.071,-1.57],[12.072,-1.96],[12.073,0.93],[12.074,-0.47],[12.075,-0.70],[12.077,-1.41],[12.078,0.15],[12.080,-1.10],[12.081,-0.01],[12.083,-1.27],[12.084,-0.47],[12.086,-1.02],[12.088,-1.62],[12.089,-2.23],[12.091,0.36],[12.093,-0.23],[12.095,0.33],[12.097,0.20],[12.100,0.43],[12.102,-0.74],[12.104,0.95],[12.105,0.60],[12.110,0.84],[12.111,0.04],[12.113,0.52],[12.115,-0.42],[12.121,1.47],[12.140,-1.07],[12.141,-0.74],[12.144,-1.12],[12.179,-0.52],[12.181,0.57],[12.185,1.19],[12.187,1.53],[12.217,1.19],[12.228,-0.23],[12.238,0.00]];
const P6_curve = [[11.751,0.86],[11.781,0.73],[11.818,0.48],[11.861,0.04],[11.891,-0.12],[11.941,-0.31],[11.971,-0.52],[12.000,-0.72],[12.029,-0.56],[12.058,-0.35],[12.087,-0.20],[12.116,-0.03],[12.145,0.08],[12.181,0.29],[12.207,0.42],[12.250,0.50]];
const P6_curveCol = [[11.70,0],[12.222,1],[12.232,0]];
const P6_cream = [[11.751,-0.17],[11.818,-0.08],[11.872,0.06],[11.934,0.12],[12.000,0.07],[12.072,0.10],[12.109,0.08],[12.145,0.01],[12.200,-0.12],[12.250,-0.20]];

// ---------- panel 7 ----------
const P7_bars = [[11.750,11.756,0.88,0],[11.759,11.771,0.54,0],[11.771,11.783,1.42,0],[11.783,11.789,0.71,0],[11.789,11.803,0.51,0],[11.803,11.812,0.28,0],[11.812,11.820,1.22,0],[11.820,11.827,-0.16,0],[11.827,11.833,0.33,0],[11.834,11.840,0.19,0],[11.842,11.844,0.64,0],[11.845,11.851,-0.37,0],[11.851,11.856,0.64,0],[11.856,11.861,-1.31,0],[11.860,11.865,-0.50,0],[11.864,11.869,-0.84,0],[11.869,11.873,-0.33,0],[11.873,11.880,0.69,0],[11.880,11.883,-1.51,0],[12.117,12.120,-1.51,0],[12.120,12.127,0.69,0],[12.127,12.131,-0.33,0],[12.131,12.136,-0.84,0],[12.135,12.140,-0.50,0],[12.139,12.144,-1.31,0],[12.144,12.149,0.64,0],[12.149,12.155,-0.37,0],[12.156,12.158,0.64,0],[12.160,12.166,0.19,0],[12.167,12.173,0.33,0],[12.173,12.180,-0.16,0],[12.180,12.188,1.22,0],[12.188,12.197,0.28,0],[12.197,12.211,0.51,0],[12.211,12.217,0.71,0],[12.217,12.229,1.42,0],[12.229,12.241,0.54,0],[12.244,12.250,0.88,0]];
const P7_red = [[11.840,0.83],[11.927,0.83],[12.073,0.83],[12.160,0.83]];
const P7_orange = [];
const P7_blue = [[11.757,1.10],[11.833,-0.25],[11.873,0.52],[11.879,0.88],[11.884,-0.43],[11.888,0.45],[11.891,1.22],[11.893,-0.04],[11.895,1.07],[11.896,0.66],[11.898,-0.95],[11.900,0.38],[11.903,0.16],[11.905,0.08],[11.907,-0.15],[11.909,1.01],[11.910,-1.05],[11.911,-1.46],[11.913,-0.87],[11.915,-0.21],[11.916,-0.49],[11.917,-1.03],[11.919,0.16],[11.920,-0.43],[11.922,0.24],[11.923,-1.25],[11.925,-0.16],[11.926,-0.37],[11.929,-2.11],[11.930,-0.66],[11.931,-0.39],[11.931,-0.88],[11.932,-1.17],[11.933,-1.28],[11.934,-0.04],[11.935,-0.16],[11.936,-0.11],[11.937,0.69],[11.938,-0.01],[11.939,-0.23],[11.940,1.27],[11.940,1.47],[11.940,-1.29],[11.941,-0.23],[11.942,0.87],[11.943,0.76],[11.944,-0.32],[11.945,0.81],[11.946,-0.62],[11.947,0.95],[11.948,-0.40],[11.949,0.45],[11.949,-0.48],[11.951,0.76],[11.952,0.95],[11.952,-0.77],[11.953,-0.18],[11.954,-0.04],[11.955,1.39],[11.956,-1.71],[11.957,-0.87],[11.958,-0.71],[11.959,0.18],[11.960,1.12],[11.960,-1.45],[11.961,-0.25],[11.963,-0.46],[11.963,0.59],[11.964,1.80],[11.965,-1.31],[11.966,-0.39],[11.967,-2.00],[11.968,-0.92],[11.969,0.74],[11.970,-1.25],[11.971,0.50],[11.971,-0.62],[11.972,1.11],[11.973,-0.37],[11.974,-2.17],[11.975,-0.14],[11.976,-0.51],[11.977,-0.69],[11.978,0.53],[11.979,-0.95],[11.980,-0.69],[11.981,-0.94],[11.982,-0.67],[11.983,-1.44],[11.984,-0.55],[11.985,-0.71],[11.986,-0.04],[11.987,0.28],[11.988,-1.32],[11.989,-1.96],[11.989,-2.57],[11.991,-1.45],[11.992,-0.94],[11.992,-2.12],[11.993,-1.84],[11.994,-3.27],[11.995,-2.10],[11.996,-0.71],[11.997,-2.43],[11.998,-2.86],[11.999,-2.97],[12.000,-1.10],[12.000,-3.52],[12.001,-3.84],[12.001,-1.11],[12.003,-2.96],[12.003,-4.58],[11.998,-4.95],[12.003,-4.95],[12.000,-7.00],[12.004,-2.03],[12.005,-2.10],[12.006,-1.86],[12.007,-3.27],[12.008,-1.92],[12.009,-0.23],[12.009,-0.59],[12.011,-2.57],[12.012,-2.92],[12.012,-0.23],[12.013,-0.74],[12.014,-0.02],[12.015,-0.88],[12.016,-2.02],[12.017,-0.71],[12.018,-1.13],[12.019,-0.64],[12.020,0.02],[12.021,-1.17],[12.021,0.32],[12.023,0.52],[12.024,-1.56],[12.025,0.12],[12.026,-0.88],[12.027,0.19],[12.028,-0.25],[12.029,-1.77],[12.030,-1.34],[12.031,-0.74],[12.032,-1.27],[12.032,0.50],[12.033,-0.60],[12.035,-0.39],[12.036,-2.53],[12.037,1.80],[12.038,-0.25],[12.039,-1.45],[12.040,-0.09],[12.041,1.11],[12.042,-0.71],[12.043,0.50],[12.043,0.46],[12.044,-0.25],[12.045,-1.72],[12.046,1.39],[12.047,-0.78],[12.048,-1.15],[12.049,0.95],[12.049,-0.11],[12.051,0.42],[12.052,-1.15],[12.052,1.06],[12.053,-0.05],[12.054,-0.53],[12.055,0.81],[12.056,-0.46],[12.057,-0.11],[12.058,0.81],[12.059,-0.25],[12.060,-1.29],[12.061,1.47],[12.061,0.71],[12.062,0.18],[12.063,-0.25],[12.064,-0.92],[12.065,-1.20],[12.066,-0.47],[12.067,-1.70],[12.069,-0.87],[12.070,-0.39],[12.072,-2.11],[12.074,-0.35],[12.076,-0.21],[12.078,0.25],[12.080,-0.42],[12.081,0.18],[12.083,-1.03],[12.084,0.11],[12.086,-0.21],[12.088,-0.88],[12.089,-1.46],[12.091,1.01],[12.093,-0.15],[12.095,0.08],[12.097,0.16],[12.100,0.38],[12.102,-0.95],[12.104,0.66],[12.105,1.07],[12.107,-0.04],[12.109,1.22],[12.112,0.45],[12.115,-0.43],[12.120,0.88],[12.126,0.52],[12.167,-0.25],[12.240,1.10]];
const P7_curve = [[11.751,0.78],[11.781,0.67],[11.818,0.39],[11.847,0.11],[11.869,-0.02],[11.905,-0.16],[11.941,-0.35],[11.971,-0.67],[12.000,-0.87],[12.029,-0.68],[12.058,-0.42],[12.080,-0.23],[12.109,-0.11],[12.138,0.04],[12.167,0.32],[12.203,0.57],[12.250,0.79]];
const P7_curveCol = [[11.70,0]];
const P7_cream = [[11.751,-0.17],[11.818,-0.08],[11.872,0.06],[11.934,0.12],[12.000,0.07],[12.072,0.10],[12.109,0.08],[12.145,0.01],[12.200,-0.12],[12.250,-0.20]];

// ---------- panel 8 ----------
const P8_bars = [[11.750,11.756,0.95,0],[11.759,11.771,0.62,0],[11.771,11.783,1.30,0],[11.783,11.789,0.78,0],[11.789,11.803,0.45,0],[11.803,11.812,0.20,0],[11.812,11.820,1.15,0],[11.820,11.827,-0.25,0],[11.827,11.833,0.40,0],[11.834,11.840,0.12,0],[11.845,11.851,-0.45,0],[11.851,11.856,0.70,0],[11.856,11.861,-1.35,0],[11.860,11.865,-0.55,0],[11.864,11.869,-0.90,0],[11.869,11.873,-0.28,0],[11.873,11.880,0.75,0],[11.880,11.883,-1.60,0],[12.117,12.120,-1.60,0],[12.120,12.127,0.75,0],[12.127,12.131,-0.28,0],[12.131,12.136,-0.90,0],[12.135,12.140,-0.55,0],[12.139,12.144,-1.35,0],[12.144,12.149,0.70,0],[12.149,12.155,-0.45,0],[12.160,12.166,0.12,0],[12.167,12.173,0.40,0],[12.173,12.180,-0.25,0],[12.180,12.188,1.15,0],[12.188,12.197,0.20,0],[12.197,12.211,0.45,0],[12.211,12.217,0.78,0],[12.217,12.229,1.30,0],[12.229,12.241,0.62,0],[12.244,12.250,0.95,0]];
const P8_red = [];
const P8_orange = [];
const P8_blue = [[11.757,1.05],[11.833,-0.30],[11.873,0.48],[11.879,0.85],[12.120,0.85],[12.126,0.48],[12.167,-0.30],[12.240,1.05],[11.884,-0.45],[11.888,0.48],[11.891,1.18],[11.895,1.02],[11.898,-0.98],[11.903,0.12],[11.909,0.98],[11.911,-1.50],[11.913,-0.90],[11.916,-0.52],[11.919,0.12],[11.923,-1.30],[11.926,-0.40],[11.929,-2.15],[11.931,-0.92],[11.933,-1.32],[11.936,-0.15],[11.937,0.65],[11.940,1.30],[11.940,1.50],[11.940,-1.33],[11.942,0.84],[11.945,0.78],[11.947,0.92],[11.949,0.42],[11.952,0.92],[11.952,-0.80],[11.955,1.36],[11.956,-1.75],[11.958,-0.74],[11.960,1.10],[11.960,-1.48],[11.963,0.56],[11.964,1.84],[11.965,-1.35],[11.967,-2.05],[11.969,0.71],[11.970,-1.28],[11.972,1.08],[11.974,-2.20],[11.976,-0.54],[11.978,0.50],[11.979,-0.98],[11.981,-0.97],[11.983,-1.48],[11.985,-0.74],[11.987,0.25],[11.988,-1.36],[11.989,-2.00],[11.989,-2.62],[11.992,-2.16],[11.993,-1.88],[11.994,-3.32],[11.997,-2.48],[11.998,-2.90],[11.999,-3.02],[12.000,-1.14],[12.000,-3.57],[12.001,-3.90],[12.003,-4.62],[11.998,-5.00],[12.003,-5.00],[12.000,-7.05],[12.004,-2.07],[12.006,-1.90],[12.007,-3.32],[12.009,-0.62],[12.011,-2.62],[12.012,-2.97],[12.014,-0.05],[12.016,-2.06],[12.018,-1.16],[12.020,0.00],[12.021,0.30],[12.023,0.50],[12.024,-1.60],[12.027,0.16],[12.029,-1.80],[12.030,-1.38],[12.032,-1.30],[12.033,-0.63],[12.036,-2.57],[12.037,1.84],[12.039,-1.48],[12.041,1.08],[12.043,0.48],[12.045,-1.75],[12.046,1.36],[12.048,-1.18],[12.049,0.92],[12.052,-1.18],[12.052,1.03],[12.055,0.78],[12.058,0.78],[12.060,-1.32],[12.061,1.50],[12.061,0.68],[12.064,-0.95],[12.065,-1.24],[12.067,-1.74],[12.069,-0.90],[12.072,-2.15],[12.078,0.22],[12.083,-1.06],[12.089,-1.50],[12.091,0.98],[12.097,0.13],[12.102,-0.98],[12.104,0.63],[12.105,1.02],[12.109,1.18],[12.112,0.48],[12.115,-0.45],[11.905,0.05],[11.925,-0.18],[11.944,-0.35],[11.949,-0.50],[11.961,-0.28],[11.966,-0.42],[11.971,-0.65],[11.975,-0.17],[11.984,-0.58],[11.986,-0.07],[11.991,-1.48],[11.996,-0.74],[12.005,-2.14],[12.008,-1.95],[12.013,-0.77],[12.015,-0.91],[12.017,-0.74],[12.019,-0.67],[12.025,0.10],[12.028,-0.28],[12.031,-0.77],[12.035,-0.42],[12.038,-0.28],[12.040,-0.12],[12.042,-0.74],[12.044,-0.28],[12.047,-0.81],[12.049,-0.14],[12.051,0.40],[12.053,-0.08],[12.054,-0.56],[12.056,-0.49],[12.059,-0.28],[12.062,0.15],[12.063,-0.28],[12.066,-0.50],[12.070,-0.42],[12.074,-0.38],[12.076,-0.24],[12.080,-0.45],[12.081,0.15],[12.084,0.08],[12.086,-0.24],[12.088,-0.91],[12.093,-0.18],[12.095,0.05],[12.100,0.35],[12.107,-0.07]];
const P8_curve = [[11.751,0.70],[11.781,0.62],[11.818,0.38],[11.847,0.12],[11.869,-0.02],[11.905,-0.18],[11.941,-0.40],[11.971,-0.72],[12.000,-0.93],[12.029,-0.72],[12.058,-0.42],[12.080,-0.23],[12.109,-0.11],[12.138,0.04],[12.167,0.30],[12.203,0.55],[12.250,0.72]];
const P8_curveCol = [[11.70,0]];
const P8_cream = [[11.751,-0.17],[11.818,-0.08],[11.872,0.06],[11.934,0.12],[12.000,0.07],[12.072,0.10],[12.109,0.08],[12.145,0.01],[12.200,-0.12],[12.250,-0.20]];

// ---------- panel 9 ----------
const P9_bars = [[11.750,11.756,1.02,0],[11.759,11.771,0.70,0],[11.771,11.783,1.25,0],[11.783,11.789,0.85,0],[11.789,11.803,0.40,0],[11.803,11.812,0.15,0],[11.812,11.820,1.10,0],[11.820,11.827,-0.30,0],[11.827,11.833,0.45,0],[11.834,11.840,0.08,0],[11.845,11.851,-0.50,0],[11.851,11.856,0.75,0],[11.856,11.861,-1.40,0],[11.860,11.865,-0.60,0],[11.864,11.869,-0.95,0],[11.869,11.873,-0.22,0],[11.873,11.880,0.80,0],[11.880,11.883,-1.65,0],[12.117,12.120,-1.65,0],[12.120,12.127,0.80,0],[12.127,12.131,-0.22,0],[12.131,12.136,-0.95,0],[12.135,12.140,-0.60,0],[12.139,12.144,-1.40,0],[12.144,12.149,0.75,0],[12.149,12.155,-0.50,0],[12.160,12.166,0.08,0],[12.167,12.173,0.45,0],[12.173,12.180,-0.30,0],[12.180,12.188,1.10,0],[12.188,12.197,0.15,0],[12.197,12.211,0.40,0],[12.211,12.217,0.85,0],[12.217,12.229,1.25,0],[12.229,12.241,0.70,0],[12.244,12.250,1.02,0]];
const P9_red = [];
const P9_orange = [];
const P9_blue = [[11.757,1.08],[11.833,-0.33],[11.873,0.46],[11.879,0.83],[12.120,0.83],[12.126,0.46],[12.167,-0.33],[12.240,1.08],[11.884,-0.48],[11.888,0.50],[11.891,1.15],[11.895,1.00],[11.898,-1.02],[11.903,0.10],[11.909,0.95],[11.911,-1.55],[11.913,-0.93],[11.916,-0.55],[11.919,0.10],[11.923,-1.33],[11.926,-0.42],[11.929,-2.18],[11.931,-0.95],[11.933,-1.35],[11.936,-0.18],[11.937,0.62],[11.940,1.32],[11.940,1.52],[11.940,-1.36],[11.942,0.82],[11.945,0.76],[11.947,0.90],[11.949,0.40],[11.952,0.90],[11.952,-0.83],[11.955,1.38],[11.956,-1.78],[11.958,-0.77],[11.960,1.08],[11.960,-1.50],[11.963,0.54],[11.964,1.86],[11.965,-1.38],[11.967,-2.08],[11.969,0.69],[11.970,-1.31],[11.972,1.06],[11.974,-2.23],[11.976,-0.57],[11.978,0.48],[11.979,-1.01],[11.981,-1.00],[11.983,-1.51],[11.985,-0.77],[11.987,0.22],[11.988,-1.39],[11.989,-2.03],[11.989,-2.66],[11.992,-2.19],[11.993,-1.91],[11.994,-3.36],[11.997,-2.52],[11.998,-2.93],[11.999,-3.06],[12.000,-1.17],[12.000,-3.61],[12.001,-3.93],[12.003,-4.63],[11.998,-4.98],[12.003,-4.98],[12.000,-6.95],[12.004,-2.10],[12.006,-1.93],[12.007,-3.36],[12.009,-0.65],[12.011,-2.66],[12.012,-3.00],[12.014,-0.08],[12.016,-2.09],[12.018,-1.19],[12.020,-0.03],[12.021,0.28],[12.023,0.48],[12.024,-1.63],[12.027,0.14],[12.029,-1.83],[12.030,-1.41],[12.032,-1.33],[12.033,-0.66],[12.036,-2.60],[12.037,1.86],[12.039,-1.51],[12.041,1.06],[12.043,0.46],[12.045,-1.78],[12.046,1.38],[12.048,-1.21],[12.049,0.90],[12.052,-1.21],[12.052,1.01],[12.055,0.76],[12.058,0.76],[12.060,-1.35],[12.061,1.52],[12.061,0.66],[12.064,-0.98],[12.065,-1.27],[12.067,-1.77],[12.069,-0.93],[12.072,-2.18],[12.078,0.20],[12.083,-1.09],[12.089,-1.53],[12.091,0.95],[12.097,0.11],[12.102,-1.01],[12.104,0.60],[12.105,1.00],[12.109,1.15],[12.112,0.46],[12.115,-0.48],[11.905,0.03],[11.925,-0.20],[11.944,-0.38],[11.949,-0.52],[11.961,-0.30],[11.966,-0.45],[11.971,-0.68],[11.975,-0.20],[11.984,-0.60],[11.991,-1.50],[11.996,-0.77],[12.005,-2.17],[12.013,-0.80],[12.017,-0.77],[12.025,0.08],[12.031,-0.80],[12.035,-0.45],[12.040,-0.15],[12.044,-0.30],[12.049,-0.17],[12.053,-0.10],[12.056,-0.52],[12.062,0.12],[12.066,-0.53],[12.074,-0.40],[12.081,0.12],[12.086,-0.27],[12.095,0.03],[12.100,0.32]];
const P9_curve = [[11.751,0.65],[11.781,0.58],[11.818,0.36],[11.847,0.10],[11.869,-0.04],[11.905,-0.20],[11.941,-0.42],[11.971,-0.75],[12.000,-0.97],[12.029,-0.75],[12.058,-0.44],[12.080,-0.25],[12.109,-0.12],[12.138,0.03],[12.167,0.28],[12.203,0.52],[12.250,0.67]];
const P9_curveCol = [[11.70,0]];
const P9_cream = [[11.751,-0.17],[11.818,-0.08],[11.872,0.06],[11.934,0.12],[12.000,0.07],[12.072,0.10],[12.109,0.08],[12.145,0.01],[12.200,-0.12],[12.250,-0.20]];

// ---------- panel 10 ----------
const P10_bars = [[11.750,11.756,1.05,0],[11.759,11.771,0.75,0],[11.771,11.783,1.20,0],[11.783,11.789,0.88,0],[11.789,11.803,0.38,0],[11.803,11.812,0.12,0],[11.812,11.820,1.05,0],[11.820,11.827,-0.32,0],[11.827,11.833,0.48,0],[11.834,11.840,0.05,0],[11.845,11.851,-0.52,0],[11.851,11.856,0.78,0],[11.856,11.861,-1.42,0],[11.860,11.865,-0.62,0],[11.864,11.869,-0.98,0],[11.869,11.873,-0.20,0],[11.873,11.880,0.82,0],[11.880,11.883,-1.68,0],[12.117,12.120,-1.68,0],[12.120,12.127,0.82,0],[12.127,12.131,-0.20,0],[12.131,12.136,-0.98,0],[12.135,12.140,-0.62,0],[12.139,12.144,-1.42,0],[12.144,12.149,0.78,0],[12.149,12.155,-0.52,0],[12.160,12.166,0.05,0],[12.167,12.173,0.48,0],[12.173,12.180,-0.32,0],[12.180,12.188,1.05,0],[12.188,12.197,0.12,0],[12.197,12.211,0.38,0],[12.211,12.217,0.88,0],[12.217,12.229,1.20,0],[12.229,12.241,0.75,0],[12.244,12.250,1.05,0]];
const P10_red = [];
const P10_orange = [];
const P10_blue = [[11.757,1.10],[11.833,-0.35],[11.873,0.44],[11.879,0.81],[12.120,0.81],[12.126,0.44],[12.167,-0.35],[12.240,1.10],[11.884,-0.50],[11.888,0.52],[11.891,1.12],[11.895,0.98],[11.898,-1.05],[11.903,0.08],[11.909,0.92],[11.911,-1.58],[11.913,-0.96],[11.916,-0.58],[11.919,0.08],[11.923,-1.36],[11.926,-0.45],[11.929,-2.20],[11.931,-0.98],[11.933,-1.38],[11.936,-0.20],[11.937,0.60],[11.940,1.34],[11.940,1.54],[11.940,-1.38],[11.942,0.80],[11.945,0.74],[11.947,0.88],[11.949,0.38],[11.952,0.88],[11.952,-0.86],[11.955,1.40],[11.956,-1.80],[11.958,-0.80],[11.960,1.06],[11.960,-1.52],[11.963,0.52],[11.964,1.88],[11.965,-1.40],[11.967,-2.10],[11.969,0.67],[11.970,-1.34],[11.972,1.04],[11.974,-2.25],[11.976,-0.60],[11.978,0.46],[11.979,-1.04],[11.981,-1.03],[11.983,-1.54],[11.985,-0.80],[11.987,0.20],[11.988,-1.42],[11.989,-2.06],[11.990,-2.81],[11.992,-2.22],[11.993,-1.94],[11.994,-3.44],[11.996,-2.91],[11.998,-3.09],[11.989,-3.15],[11.999,-3.17],[12.002,-3.17],[12.000,-1.20],[12.000,-3.67],[12.001,-3.97],[12.003,-4.63],[11.998,-4.97],[12.004,-4.97],[12.000,-6.84],[12.004,-2.12],[12.006,-1.96],[12.007,-3.45],[12.009,-0.68],[12.012,-3.12],[12.012,-3.15],[12.014,-2.81],[12.014,-0.10],[12.016,-2.12],[12.018,-1.22],[12.020,-0.05],[12.021,0.26],[12.023,0.46],[12.024,-1.66],[12.027,0.12],[12.029,-1.86],[12.030,-1.44],[12.032,-1.36],[12.033,-0.69],[12.036,-2.62],[12.037,1.88],[12.039,-1.54],[12.041,1.04],[12.043,0.44],[12.045,-1.80],[12.046,1.40],[12.048,-1.24],[12.049,-2.78],[12.049,0.88],[12.052,-1.24],[12.052,0.99],[12.055,0.74],[12.058,0.74],[12.060,-1.38],[12.061,1.54],[12.061,0.64],[12.064,-1.01],[12.065,-1.30],[12.067,-1.80],[12.069,-0.96],[12.072,-2.20],[12.078,0.18],[12.083,-1.12],[12.089,-1.56],[12.091,0.92],[12.097,0.09],[12.102,-1.04],[12.104,0.58],[12.105,0.98],[12.109,1.12],[12.112,0.44],[12.115,-0.50],[11.905,0.01],[11.925,-0.22],[11.944,-0.40],[11.949,-0.55],[11.961,-0.33],[11.966,-0.48],[11.971,-0.70],[11.975,-0.22],[11.984,-0.63],[11.991,-1.53],[11.996,-0.80],[12.005,-2.20],[12.013,-0.83],[12.017,-0.80],[12.025,0.06],[12.031,-0.83],[12.035,-0.48],[12.040,-0.18],[12.044,-0.32],[12.049,-0.20],[12.053,-0.12],[12.056,-0.55],[12.062,0.10],[12.066,-0.56],[12.074,-0.43],[12.081,0.10],[12.086,-0.30],[12.095,0.01],[12.100,0.30]];
const P10_curve = [[11.751,0.55],[11.781,0.50],[11.818,0.32],[11.847,0.08],[11.869,-0.05],[11.905,-0.22],[11.941,-0.45],[11.971,-0.78],[12.000,-0.95],[12.029,-0.78],[12.058,-0.45],[12.080,-0.25],[12.109,-0.12],[12.138,0.02],[12.167,0.25],[12.203,0.47],[12.250,0.57]];
const P10_curveCol = [[11.70,0]];
const P10_cream = [[11.751,-0.17],[11.818,-0.08],[11.872,0.06],[11.934,0.12],[12.000,0.07],[12.072,0.10],[12.109,0.08],[12.145,0.01],[12.200,-0.12],[12.250,-0.20]];

// ---------- assemble ----------
const panels = [
 {bars:P1_bars,red:P1_red,orange:P1_orange,blue:P1_blue,curve:P1_curve,cc:P1_curveCol,cream:P1_cream},
 {bars:P2_bars,red:P2_red,orange:P2_orange,blue:P2_blue,curve:P2_curve,cc:P2_curveCol,cream:P2_cream},
 {bars:P3_bars,red:P3_red,orange:P3_orange,blue:P3_blue,curve:P3_curve,cc:P3_curveCol,cream:P3_cream},
 {bars:P4_bars,red:P4_red,orange:P4_orange,blue:P4_blue,curve:P4_curve,cc:P4_curveCol,cream:P4_cream},
 {bars:P5_bars,red:P5_red,orange:P5_orange,blue:P5_blue,curve:P5_curve,cc:P5_curveCol,cream:P5_cream},
 {bars:P6_bars,red:P6_red,orange:P6_orange,blue:P6_blue,curve:P6_curve,cc:P6_curveCol,cream:P6_cream},
 {bars:P7_bars,red:P7_red,orange:P7_orange,blue:P7_blue,curve:P7_curve,cc:P7_curveCol,cream:P7_cream},
 {bars:P8_bars,red:P8_red,orange:P8_orange,blue:P8_blue,curve:P8_curve,cc:P8_curveCol,cream:P8_cream},
 {bars:P9_bars,red:P9_red,orange:P9_orange,blue:P9_blue,curve:P9_curve,cc:P9_curveCol,cream:P9_cream},
 {bars:P10_bars,red:P10_red,orange:P10_orange,blue:P10_blue,curve:P10_curve,cc:P10_curveCol,cream:P10_cream}
];

const S = 702/1152;
const XMIN = 11.725, XMAX = 12.275, YMIN = -7.57, YMAX = 2.95;
const COLORS = ['#78b0f2','#ffa200','#ff3c0a'];
const FONT = '"Liberation Sans", Arial, sans-serif';
const LINE_STYLES = [
  {stroke:'#2c1b14', lineWidth:0.9},
  {stroke:'#40281f', lineWidth:0.6, lineDash:[3,3]},
  {stroke:'#2c1b14', lineWidth:0.9},
  {stroke:'#40281f', lineWidth:0.6, lineDash:[3,3]},
  {stroke:'#000000', lineWidth:1.2},
  {stroke:'#8a8078', lineWidth:0.6, lineDash:[2,2]}
];

const grids=[], xAxes=[], yAxes=[], series=[], visualMaps=[], graphics=[];
const gridData = [].concat(
  yTicks.map(v=>[v,0]), yMinor.map(v=>[v,1]), xTicks.map(v=>[v,2]),
  xMinor.map(v=>[v,3]), centerLine.map(v=>[v,5]), refLines.map(v=>[v,4]));

panels.forEach((p,k)=>{
  const top = (30+669.6*k)*S, left = 34*S, width = 1110*S, height = 639.3*S;
  grids.push({left, top, width, height, show:true, backgroundColor:'#4e3228', borderWidth:0});
  const last = k===panels.length-1;
  xAxes.push({gridIndex:k, type:'value', min:XMIN, max:XMAX,
    axisLine:{show:false}, axisTick:{show:false}, splitLine:{show:false},
    axisLabel: last ? {show:true, customValues:xTicks, formatter:v=>v.toFixed(2), color:'#4d4d4d', fontSize:8.5, fontFamily:FONT, margin:4} : {show:false}});
  yAxes.push({gridIndex:k, type:'value', min:YMIN, max:YMAX,
    axisLine:{show:false}, axisTick:{show:false}, splitLine:{show:false},
    axisLabel:{show:true, customValues:yTicks, formatter:v=>v.toFixed(1), color:'#3a3a3a', fontSize:8.5, fontFamily:FONT, margin:4}});
  series.push({type:'custom', xAxisIndex:k, yAxisIndex:k, silent:true, z:1, data:gridData,
    renderItem:(params, api)=>{
      const v = api.value(0), kind = api.value(1), cs = params.coordSys;
      let shape;
      if (kind<2) { const y = api.coord([12, v])[1]; shape = {x1:cs.x, y1:y, x2:cs.x+cs.width, y2:y}; }
      else { const x = api.coord([v, 0])[0]; shape = {x1:x, y1:cs.y, x2:x, y2:cs.y+cs.height}; }
      return {type:'line', shape, style:LINE_STYLES[kind]};
    }});
  series.push({type:'custom', xAxisIndex:k, yAxisIndex:k, silent:true, z:3, data:p.bars,
    encode:{x:[0,1], y:2},
    renderItem:(params, api)=>{
      const a = api.coord([api.value(0), api.value(2)]), b = api.coord([api.value(1), api.value(2)]);
      const h = 2.5;
      return {type:'rect', shape:{x:a[0]-1.1, y:a[1]-h/2, width:b[0]-a[0]+2.2, height:h, r:h/2},
        style:{fill:COLORS[api.value(3)]}};
    }});
  [['blue',0],['orange',1],['red',2]].forEach(([key,ci])=>{
    series.push({type:'scatter', xAxisIndex:k, yAxisIndex:k, silent:true, z:3, data:p[key],
      symbol:'circle', symbolSize:2.2, itemStyle:{color:COLORS[ci], opacity:1}});
  });
  series.push({type:'line', xAxisIndex:k, yAxisIndex:k, silent:true, z:4, data:p.cream, smooth:true,
    showSymbol:false, symbol:'none', lineStyle:{color:'#f3deb0', width:1.25}});
  const multi = p.cc.length>1;
  series.push({type:'line', xAxisIndex:k, yAxisIndex:k, silent:true, z:5, data:p.curve, smooth:true,
    showSymbol:false, symbol:'none', itemStyle:{color:COLORS[p.cc[0][1]]},
    lineStyle: multi ? {width:1.1} : {color:COLORS[p.cc[0][1]], width:1.1}});
  if (multi) {
    const pieces = p.cc.map((c,i)=>({gte:c[0], lt: i+1<p.cc.length ? p.cc[i+1][0] : 12.5, color:COLORS[c[1]]}));
    visualMaps.push({type:'piecewise', show:false, dimension:0, seriesIndex:series.length-1, pieces});
  }
  graphics.push({type:'rect', z:50, shape:{x:left, y:(7+669.6*k)*S, width:1111*S, height:23*S}, style:{fill:'#d0d0d0'}});
  graphics.push({type:'text', z:51, x:left+width/2, y:(18.5+669.6*k)*S,
    style:{text:panelLabels[k], fill:'#1a1a1a', fontSize:8.5, fontFamily:FONT, align:'center', verticalAlign:'middle'}});
  graphics.push({type:'text', z:60, x:46*S, y:(664+669.6*k)*S,
    style:{text:captionPrefix+panelLabels[k], fill:'#efd59c', fontSize:8.9, fontFamily:FONT, align:'left', verticalAlign:'middle'}});
});

const chart = echarts.init(document.getElementById('c'), null, {renderer:'canvas', width:702, height:4096});
chart.setOption({backgroundColor:'#f0d89e', animation:false, grid:grids, xAxis:xAxes, yAxis:yAxes,
  series, visualMap:visualMaps, graphic:{elements:graphics}});
</script></body></html>
